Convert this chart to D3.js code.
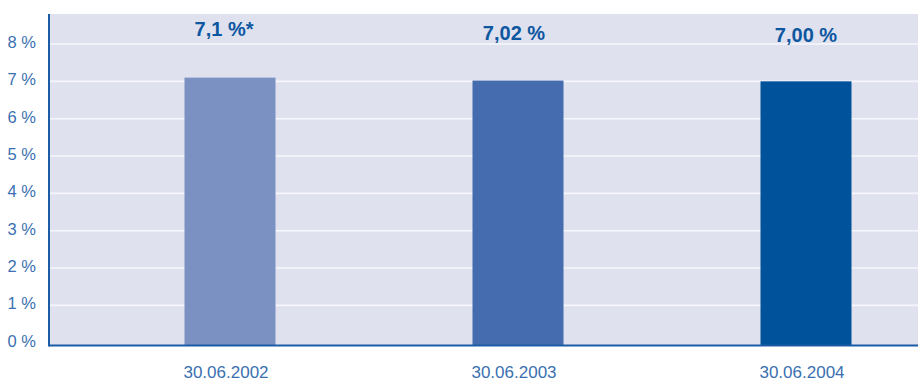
<!DOCTYPE html>
<html lang="de">
<head>
<meta charset="utf-8">
<title>Chart</title>
<script src="https://cdn.jsdelivr.net/npm/d3@7"></script>
<style>
  body { margin: 0; background: #fff; }
  text { font-family: "Liberation Sans", Arial, sans-serif; }
</style>
</head>
<body>
<div id="chart"></div>
<script>
// data
var dates = ["30.06.2002", "30.06.2003", "30.06.2004"];
var rates = [7.1, 7.02, 7.00];
var rateLabels = ["7,1 %*", "7,02 %", "7,00 %"];
var barColors = ["#7b91c2", "#456caf", "#00529b"];
var yTicks = [0, 1, 2, 3, 4, 5, 6, 7, 8];

var w = 918, h = 381;
var mLeft = 49, mRight = 918, mTop = 14, mBottom = 345;

var svg = d3.select("#chart").append("svg")
  .attr("width", w)
  .attr("height", h);

var y = d3.scaleLinear().domain([0, 8]).range([342.7, 44]);
var x = d3.scalePoint().domain(dates).range([230, 806]);
var barW = 91;

// plot background
svg.append("rect")
  .attr("x", mLeft).attr("y", mTop)
  .attr("width", mRight - mLeft).attr("height", mBottom - mTop)
  .attr("fill", "#dfe1ef");

// gridlines
svg.selectAll("line.grid")
  .data(yTicks.filter(function(d) { return d > 0; }))
  .enter().append("line")
  .attr("class", "grid")
  .attr("x1", mLeft).attr("x2", mRight)
  .attr("y1", function(d) { return y(d); })
  .attr("y2", function(d) { return y(d); })
  .attr("stroke", "#f7f7fb")
  .attr("stroke-width", 1.6);

// bars
svg.selectAll("rect.bar")
  .data(rates)
  .enter().append("rect")
  .attr("class", "bar")
  .attr("x", function(d, i) { return x(dates[i]) - barW / 2; })
  .attr("y", function(d) { return y(d); })
  .attr("width", barW)
  .attr("height", function(d) { return mBottom - y(d); })
  .attr("fill", function(d, i) { return barColors[i]; });

// value labels (slightly staggered as in the original)
svg.selectAll("text.val")
  .data(rateLabels)
  .enter().append("text")
  .attr("class", "val")
  .attr("x", function(d, i) { return x(dates[i]) - [6, 4, 0][i]; })
  .attr("y", function(d, i) { return [36, 40, 41.5][i]; })
  .attr("text-anchor", "middle")
  .attr("font-size", 20)
  .attr("font-weight", "bold")
  .attr("fill", "#0d56a0")
  .text(function(d) { return d; });

// axes lines
svg.append("line")
  .attr("x1", mLeft).attr("x2", mRight)
  .attr("y1", mBottom + 0.5).attr("y2", mBottom + 0.5)
  .attr("stroke", "#1c5ca6").attr("stroke-width", 2);
svg.append("line")
  .attr("x1", mLeft).attr("x2", mLeft)
  .attr("y1", mTop).attr("y2", mBottom + 1.5)
  .attr("stroke", "#1c5ca6").attr("stroke-width", 2);

// y tick labels
svg.selectAll("text.ytick")
  .data(yTicks)
  .enter().append("text")
  .attr("class", "ytick")
  .attr("x", 36)
  .attr("y", function(d) { return y(d) + 4; })
  .attr("text-anchor", "end")
  .attr("font-size", 16.5)
  .attr("fill", "#3a70b1")
  .text(function(d) { return d + " %"; });

// x labels
svg.selectAll("text.xlab")
  .data(dates)
  .enter().append("text")
  .attr("class", "xlab")
  .attr("x", function(d) { return x(d) - 4; })
  .attr("y", 378)
  .attr("text-anchor", "middle")
  .attr("font-size", 17)
  .attr("fill", "#3a70b1")
  .text(function(d) { return d; });
</script>
</body>
</html>
